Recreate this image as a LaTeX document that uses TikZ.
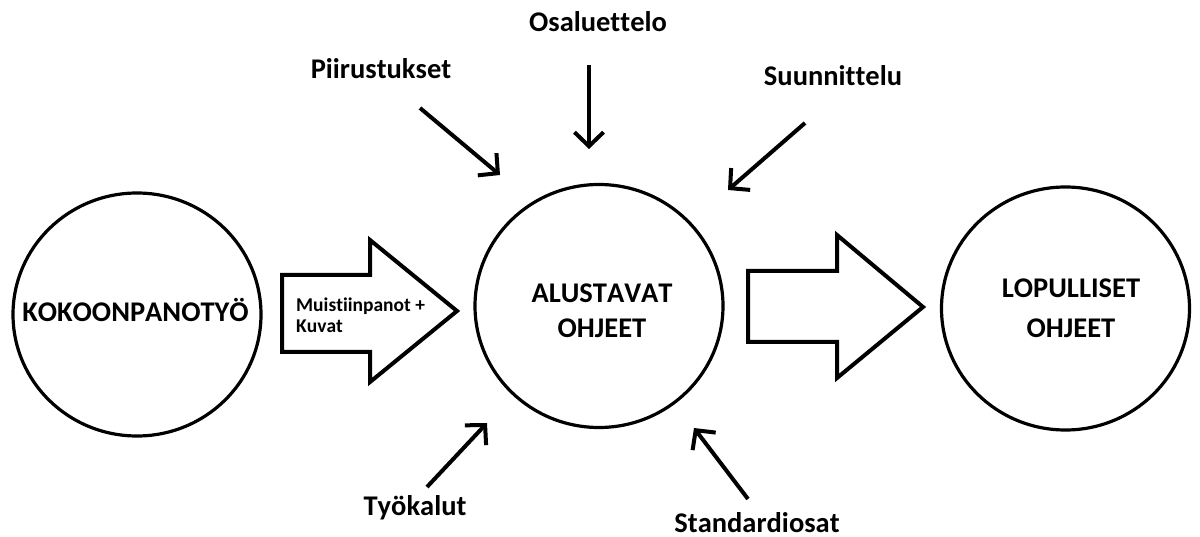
\documentclass[tikz,border=0pt]{standalone}
\usepackage{fontspec}
\setmainfont{Carlito}[Ligatures=NoCommon, Kerning=Off]
\usetikzlibrary{arrows.meta}
\usetikzlibrary{shapes.geometric}
\usetikzlibrary{positioning}

\begin{document}
\begin{tikzpicture}[
            x = 1pt, y = -1pt, % pixel units, y pointing down
            > = {Straight Barb[length=14pt, width=29pt]}, % open arrow head
            line join = miter,
            phase/.style = {draw, ellipse, line width=3.2pt,
                minimum width=248pt, minimum height=243pt},
            phasetext/.style = {inner sep=0pt, align=center,
                font=\fontsize{28.5}{35}\selectfont\bfseries},
            source/.style = {inner sep=0pt, anchor=base,
                font=\fontsize{28.5}{32}\selectfont\bfseries},
            feed/.style = {->, line width=4pt},
            blockarrow/.style = {draw, line width=4pt}
        ]

        \useasboundingbox (0,0) rectangle (1200,537);

        % main phases
        \node[phase, label={[phasetext, xshift=-1.5pt, yshift=5pt]center:KOKOONPANOTYÖ}]
            (K) at (137,314.5) {};
        \node[phase, label={[phasetext, xshift=3pt, yshift=-5pt]center:ALUSTAVAT\\OHJEET}]
            (A) at (599,306) {};
        \node[phase, label={[phasetext, xshift=5.5pt]center:LOPULLISET\\[5pt]OHJEET}]
            (L) at (1065.5,308.5) {};

        % block arrows between phases
        \draw[blockarrow] (282,275) -- (370,275) -- (370,240) -- (457,311)
            -- (370,382) -- (370,352) -- (282,352) -- cycle;
        \node[inner sep=0pt, anchor=west, align=left,
            font=\fontsize{19.5}{21}\selectfont\bfseries] (M) at (296,315)
            {Muistiinpanot +\\Kuvat};

        \draw[blockarrow] (748,271) -- (837,271) -- (837,235) -- (923,307)
            -- (837,378) -- (837,342) -- (748,342) -- cycle;

        % sources feeding the preliminary instructions
        \node[source] (O) at (598,32) {Osaluettelo};
        \node[source] (P) at (381,79) {Piirustukset};
        \node[source] (S) at (833,86) {Suunnittelu};
        \node[source] (T) at (415,515) {Työkalut};
        \node[source] (SO) at (757,532) {Standardiosat};

        \coordinate (O1) at (589,65);   \coordinate (O2) at (589,149);
        \coordinate (P1) at (420,108);  \coordinate (P2) at (500,175);
        \coordinate (S1) at (805,123);  \coordinate (S2) at (728,190);
        \coordinate (T1) at (427,487);  \coordinate (T2) at (487,423);
        \coordinate (SO1) at (748,499); \coordinate (SO2) at (694,428);

        \draw[feed] (O1) -- (O2);
        \draw[feed] (P1) -- (P2);
        \draw[feed] (S1) -- (S2);
        \draw[feed] (T1) -- (T2);
        \draw[feed] (SO1) -- (SO2);

  \end{tikzpicture}
\end{document}
